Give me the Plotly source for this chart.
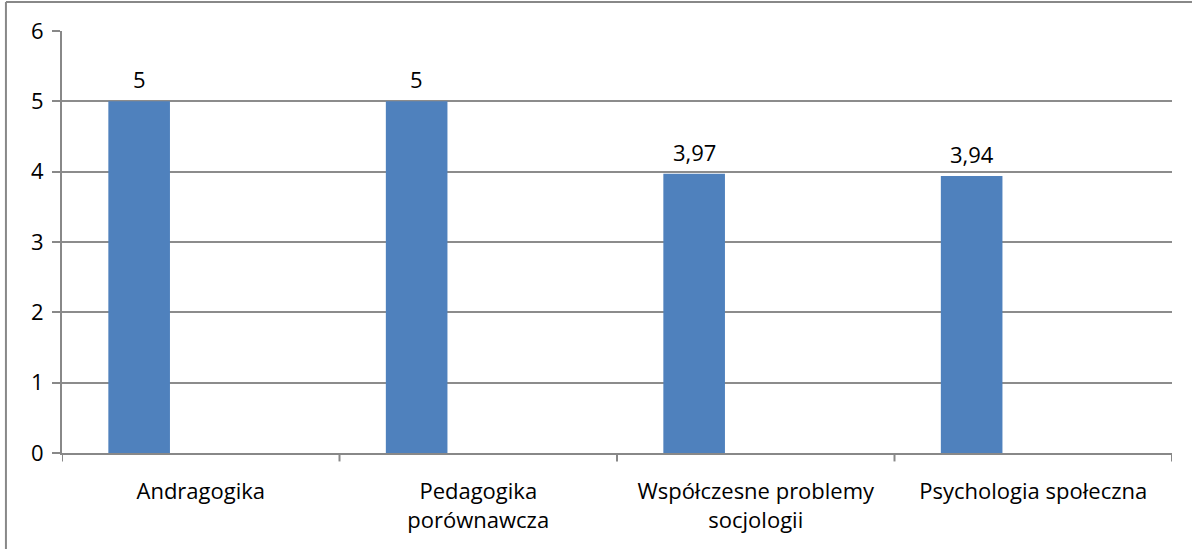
import plotly.graph_objects as go

categories = ["Andragogika", "Pedagogika<br>porównawcza", "Współczesne problemy<br>socjologii", "Psychologia społeczna"]
values = [5, 5, 3.97, 3.94]
value_labels = ["5", "5", "3,97", "3,94"]
y_ticks = [0, 1, 2, 3, 4, 5, 6]

BAR_W = 0.222
BAR_OFF = -0.333
xs = list(range(len(categories)))

FS = 22

fig = go.Figure()
fig.add_trace(go.Bar(
    x=xs, y=values, width=BAR_W, offset=BAR_OFF,
    marker=dict(color="#4F81BD", line=dict(width=0)),
    hoverinfo="skip",
))

for xi, v, lab in zip(xs, values, value_labels):
    fig.add_annotation(x=xi + BAR_OFF + BAR_W / 2, y=v, xref="x", yref="y",
                       text=lab, showarrow=False, yshift=22, yanchor="middle",
                       font=dict(size=FS, color="#000000"))

FONT = "Open Sans, sans-serif"
fig.update_layout(
    width=1197, height=549,
    margin=dict(l=62, r=25, t=31, b=96),
    paper_bgcolor="white", plot_bgcolor="white",
    font=dict(family=FONT, size=FS, color="#000000"),
    showlegend=False,
    xaxis=dict(
        range=[-0.5, 3.5], tickvals=xs, ticktext=categories,
        showgrid=False, zeroline=False,
        showline=True, linecolor="#888888", linewidth=2,
        ticks="", tickfont=dict(size=FS), ticklabelstandoff=18,
    ),
    yaxis=dict(
        range=[0, 6], tickvals=y_ticks,
        showgrid=True, gridcolor="#8c8c8c", gridwidth=2,
        zeroline=False, showline=True, linecolor="#888888", linewidth=2,
        ticks="outside", ticklen=8, tickcolor="#888888", tickwidth=2,
        tickfont=dict(size=FS), ticklabelstandoff=4,
    ),
)

# category boundary tick marks on x axis
for b in [-0.5, 0.5, 1.5, 2.5, 3.5]:
    fig.add_shape(type="line", xref="x", yref="paper", x0=b, x1=b, y0=0, y1=-0.02,
                  line=dict(color="#888888", width=2))

# outer chart border (partially cropped)
fig.add_shape(type="line", xref="paper", yref="paper", x0=-0.0505, x1=1.018, y0=1.0687, y1=1.0687,
              line=dict(color="#888888", width=2))
fig.add_shape(type="line", xref="paper", yref="paper", x0=-0.0505, x1=-0.0505, y0=1.0687, y1=-0.3,
              line=dict(color="#888888", width=2))

fig.write_html("out.html", config={"displayModeBar": False},
               post_script="document.body.style.margin='0';document.body.style.overflow='hidden';")
